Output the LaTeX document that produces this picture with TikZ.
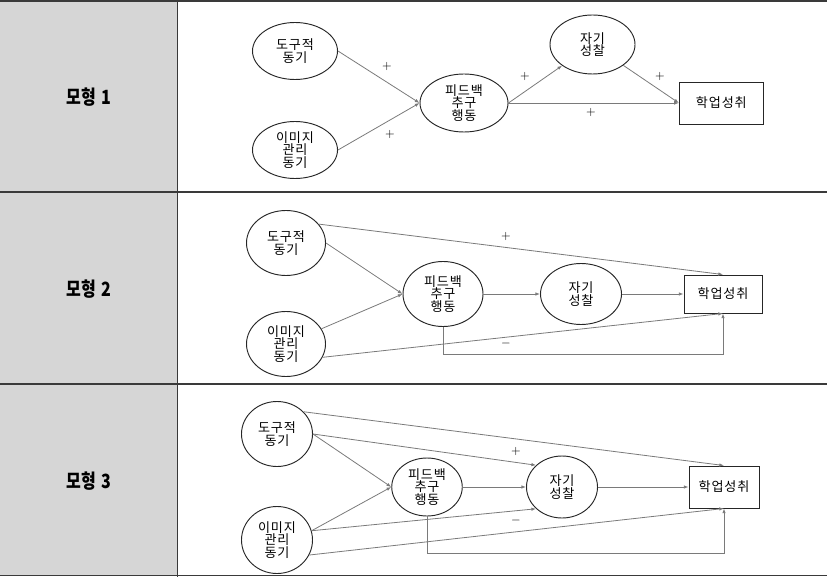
\documentclass[tikz,border=0pt]{standalone}
\usepackage{fontspec}
\newfontfamily\krfont[LetterSpace=7]{Noto Sans CJK KR}
\newfontfamily\krtitle{Noto Sans CJK KR}
\usetikzlibrary{arrows.meta}
\usetikzlibrary{shapes.geometric}
\definecolor{cellgray}{HTML}{D6D6D6}
\definecolor{rulegray}{HTML}{3A3A3A}
\definecolor{linkgray}{HTML}{7A7A7A}
\tikzset{
	>={Latex[length=3.5pt,width=2.6pt]},
	var/.style 2 args={draw=black!85, line width=0.7pt, ellipse, inner sep=0pt,
		minimum width=#1, minimum height=#2, align=center,
		font=\krfont\fontsize{9.8}{9.4}\selectfont},
	outcome/.style 2 args={draw=black!85, line width=0.7pt, rectangle, inner sep=0pt,
		minimum width=#1, minimum height=#2,
		font=\krfont\fontsize{9.8}{9.4}\selectfont},
	link/.style={draw=linkgray, line width=0.6pt, ->},
	sign/.style={inner sep=0pt, font=\fontsize{9}{9}\selectfont},
	model/.style={inner sep=0pt, font=\krtitle\bfseries\fontsize{14}{14}\selectfont},
	tabline/.style={draw=rulegray, line width=1.4pt}
}

\begin{document}
\begin{tikzpicture}[x=0.75pt,y=-0.75pt]
	\useasboundingbox (0,0) rectangle (827,577);

	% table
	\fill[cellgray] (0,1) rectangle (177.5,576);
	\foreach \y in {1,192,384,575.5}{
		\draw[tabline] (0,\y) -- (827,\y);
	}
	\draw[tabline] (177.5,0) -- (177.5,577);

	\node[model] (t1) at (89,97) {\scalebox{0.86}[1.05]{모형\hspace{0.35em}1}};
	\node[model] (t2) at (89,289) {\scalebox{0.86}[1.05]{모형\hspace{0.35em}2}};
	\node[model] (t3) at (89,481) {\scalebox{0.86}[1.05]{모형\hspace{0.35em}3}};

	% 모형 1
	\node[var={63.75pt}{42.75pt}] (m1a) at (295,51) {도구적\\동기};
	\node[var={63.75pt}{42.75pt}] (m1b) at (295,150) {이미지\\관리\\동기};
	\node[var={66pt}{43.5pt}] (m1c) at (464,103) {피드백\\추구\\행동};
	\node[var={63.75pt}{44.25pt}] (m1d) at (592.5,44.5) {자기\\성찰};
	\node[outcome={63pt}{31.5pt}] (m1e) at (721.3,103) {학업성취};

	\draw[link] (m1a.east) -- (m1c.west);
	\draw[link] (m1b.east) -- (m1c.west);
	\draw[link] (m1c.east) -- (m1d);
	\draw[link] (m1d) -- (m1e.west);
	\draw[link] (m1c.east) -- (m1e.west);

	\node[sign] (s11) at (387,67) {$+$};
	\node[sign] (s12) at (390,135) {$+$};
	\node[sign] (s13) at (525,77) {$+$};
	\node[sign] (s14) at (660,77) {$+$};
	\node[sign] (s15) at (591,113) {$+$};

	% 모형 2
	\node[var={59.25pt}{48.75pt}] (m2a) at (286,243) {도구적\\동기};
	\node[var={59.25pt}{48.75pt}] (m2b) at (286,344) {이미지\\관리\\동기};
	\node[var={60pt}{48.75pt}] (m2c) at (443,294) {피드백\\추구\\행동};
	\node[var={60.75pt}{45.75pt}] (m2d) at (581,294) {자기\\성찰};
	\node[outcome={58.5pt}{28.5pt}] (m2e) at (723,294) {학업성취};

	\draw[link] (m2a.30) -- (m2e.north);
	\draw[link] (m2a.east) -- (m2c.west);
	\draw[link] (m2b) -- (m2c.west);
	\draw[link] (m2b.-20) -- (m2e.south);
	\draw[link] (m2c.east) -- (m2d.west);
	\draw[link] (m2d.east) -- (m2e.west);
	\draw[link] (m2c.south) -- ++(0,27) -| (m2e.south);

	\node[sign] (s21) at (506,236) {$+$};
	\node[sign] (s22) at (506,343) {$-$};

	% 모형 3
	\node[var={53.25pt}{48.75pt}] (m3a) at (277,434) {도구적\\동기};
	\node[var={53.25pt}{50.25pt}] (m3b) at (277,540) {이미지\\관리\\동기};
	\node[var={52.9pt}{43.5pt}] (m3c) at (427,487) {피드백\\추구\\행동};
	\node[var={53.25pt}{46.5pt}] (m3d) at (562,487) {자기\\성찰};
	\node[outcome={52.5pt}{31.5pt}] (m3e) at (724,487) {학업성취};

	\draw[link] (m3a.40) -- (m3e.north);
	\draw[link] (m3a.east) -- (m3d.140);
	\draw[link] (m3a.east) -- (m3c.west);
	\draw[link] (m3b.15) -- (m3c.west);
	\draw[link] (m3b.15) -- (m3d.220);
	\draw[link] (m3b.-25) -- (m3e.south);
	\draw[link] (m3c.east) -- (m3d.west);
	\draw[link] (m3d.east) -- (m3e.west);
	\draw[link] (m3c.south) -- ++(0,37) -| (m3e.south);

	\node[sign] (s31) at (516,451) {$+$};
	\node[sign] (s32) at (516,520) {$-$};

\end{tikzpicture}
\end{document}
